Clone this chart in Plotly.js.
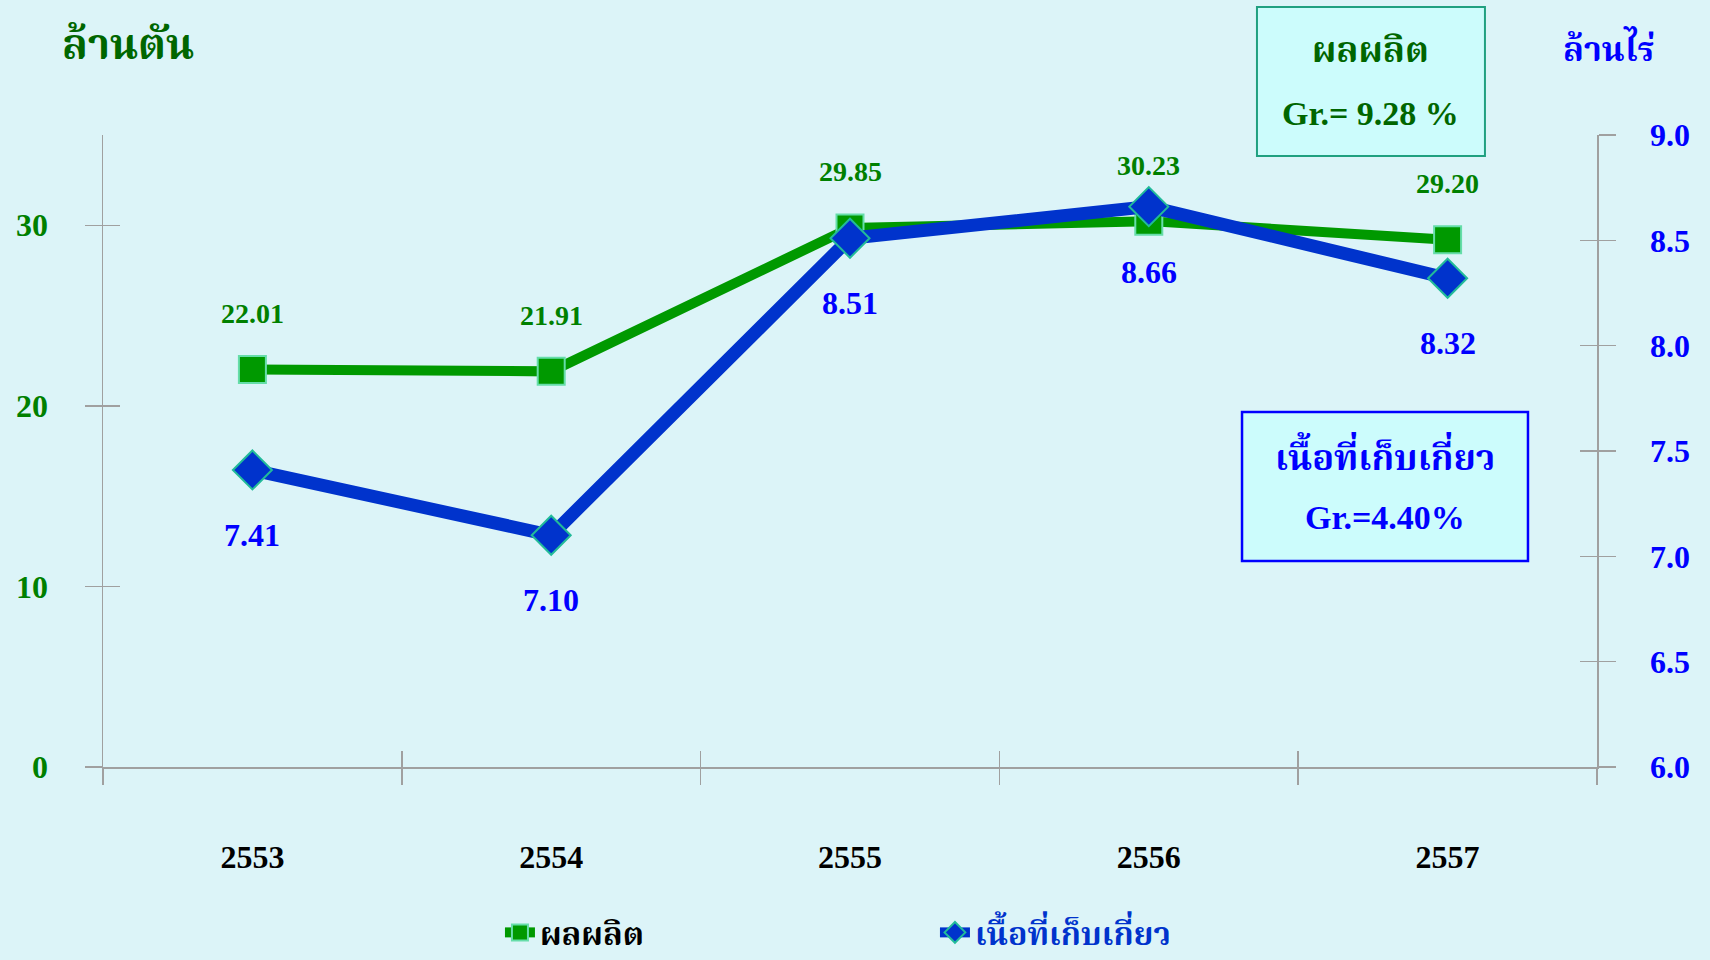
<!DOCTYPE html>
<html>
<head>
<meta charset="utf-8">
<script src="https://cdn.plot.ly/plotly-3.0.1.min.js"></script>
<style>
html,body{margin:0;padding:0;background:#dcf4f8;}
#chart{width:1710px;height:960px;}
</style>
</head>
<body>
<div id="chart"></div>
<script>
const years = ['2553', '2554', '2555', '2556', '2557'];
const production = [22.01, 21.91, 29.85, 30.23, 29.20];
const harvestArea = [7.41, 7.10, 8.51, 8.66, 8.32];
const productionLabels = ['22.01', '21.91', '29.85', '30.23', '29.20'];
const areaLabels = ['7.41', '7.10', '8.51', '8.66', '8.32'];
const leftTicks = [0, 10, 20, 30];
const rightTicks = [6.0, 6.5, 7.0, 7.5, 8.0, 8.5, 9.0];
const nameProduction = 'ผลผลิต';
const nameArea = 'เนื้อที่เก็บเกี่ยว';
const leftUnit = 'ล้านตัน';
const rightUnit = 'ล้านไร่';
const prodGrowth = 'Gr.= 9.28 %';
const areaGrowth = 'Gr.=4.40%';

const SERIF = 'Liberation Serif, Noto Serif Thai, Times New Roman, serif';
const GREEN = '#009900';
const DKGREEN = '#006600';
const BLUE = '#0033cc';
const TXTBLUE = '#0000ff';
const AXIS = '#a0a0a0';

const traces = [
  {
    x: years, y: production, name: nameProduction, type: 'scatter', mode: 'lines+markers',
    xaxis: 'x', yaxis: 'y',
    line: {color: GREEN, width: 10},
    marker: {symbol: 'square', size: 27, color: GREEN, line: {color: '#66ddaa', width: 2}},
    hoverinfo: 'skip'
  },
  {
    x: years, y: harvestArea, name: '<span style="color:#0033cc">' + nameArea + '</span>', type: 'scatter', mode: 'lines+markers',
    xaxis: 'x', yaxis: 'y2',
    line: {color: BLUE, width: 13},
    marker: {symbol: 'diamond', size: 30, color: BLUE, line: {color: '#22bb99', width: 2}},
    hoverinfo: 'skip'
  },
  {
    x: years, y: production, type: 'scatter', mode: 'markers', xaxis: 'x2', yaxis: 'y3',
    marker: {opacity: 0}, showlegend: false, hoverinfo: 'skip'
  },
  {
    x: years, y: harvestArea, type: 'scatter', mode: 'markers', xaxis: 'x2', yaxis: 'y4',
    marker: {opacity: 0}, showlegend: false, hoverinfo: 'skip'
  }
];

const annotations = [];
years.forEach((yr, i) => {
  annotations.push({
    x: i, y: production[i], xref: 'x', yref: 'y', text: productionLabels[i], showarrow: false,
    xanchor: 'center', yanchor: 'middle',
    yshift: 56, font: {family: SERIF, size: 28, color: '#008000', weight: 'bold'}
  });
  annotations.push({
    x: i, y: harvestArea[i], xref: 'x', yref: 'y2', text: areaLabels[i], showarrow: false,
    xanchor: 'center', yanchor: 'middle',
    yshift: -65, font: {family: SERIF, size: 32, color: TXTBLUE, weight: 'bold'}
  });
});
function paperNote(x, y, text, size, color) {
  return {xref: 'paper', yref: 'paper', x: x, y: y, text: text, showarrow: false,
    xanchor: 'center', yanchor: 'middle',
    font: {family: SERIF, size: size, color: color, weight: 'bold'}};
}
annotations.push(
  paperNote(0.0167, 1.142, leftUnit, 42, DKGREEN),
  paperNote(1.0074, 1.139, rightUnit, 34, TXTBLUE),
  paperNote(0.8487, 1.1345, nameProduction, 36, DKGREEN),
  paperNote(0.8487, 1.0348, prodGrowth, 34, DKGREEN),
  paperNote(0.8581, 0.4937, nameArea, 36, TXTBLUE),
  paperNote(0.8581, 0.3940, areaGrowth, 34, TXTBLUE)
);

const shapes = [
  {type: 'rect', xref: 'paper', yref: 'paper', x0: 0.7724, x1: 0.9250, y0: 0.9668, y1: 1.2025,
   fillcolor: '#ccfcfc', line: {color: '#20a080', width: 2}, layer: 'below'},
  {type: 'rect', xref: 'paper', yref: 'paper', x0: 0.7624, x1: 0.9538, y0: 0.3259, y1: 0.5617,
   fillcolor: '#ccfcfc', line: {color: '#0000ff', width: 2.5}, layer: 'below'}
];

const layout = {
  width: 1710, height: 960,
  paper_bgcolor: '#dcf4f8', plot_bgcolor: '#dcf4f8',
  margin: {l: 103, r: 113, t: 135, b: 193, autoexpand: false},
  showlegend: true,
  legend: {
    orientation: 'h', x: 0.2657, y: -0.262, xanchor: 'left', yanchor: 'middle',
    font: {family: SERIF, size: 32, color: '#000000', weight: 'bold'},
    entrywidth: 390, bgcolor: 'rgba(0,0,0,0)', itemsizing: 'trace'
  },
  xaxis: {
    type: 'category', categoryarray: years, range: [-0.5, 4.5],
    showline: true, linecolor: AXIS, linewidth: 1.5, showgrid: false, zeroline: false,
    ticks: 'outside', tickson: 'boundaries', ticklen: 16, tickcolor: AXIS, tickwidth: 1.5,
    tickfont: {family: SERIF, size: 32, color: '#000000', weight: 'bold'},
    ticklabelstandoff: 61, fixedrange: true
  },
  xaxis2: {
    type: 'category', categoryarray: years, range: [-0.5, 4.5], overlaying: 'x',
    showline: false, showgrid: false, zeroline: false,
    ticks: 'inside', tickson: 'boundaries', ticklen: 16, tickcolor: AXIS, tickwidth: 1.5,
    showticklabels: false
  },
  yaxis: {
    range: [0, 35], tickvals: leftTicks, ticktext: leftTicks.map(String),
    showline: true, linecolor: AXIS, linewidth: 1.5, showgrid: false, zeroline: false,
    ticks: 'outside', ticklen: 17, tickcolor: AXIS, tickwidth: 1.5,
    tickfont: {family: SERIF, size: 32, color: '#008000', weight: 'bold'},
    ticklabelstandoff: 30
  },
  yaxis2: {
    range: [6, 9], tickvals: rightTicks, ticktext: rightTicks.map(v => v.toFixed(1)),
    overlaying: 'y', side: 'right',
    showline: true, linecolor: AXIS, linewidth: 1.5, showgrid: false, zeroline: false,
    ticks: 'outside', ticklen: 17, tickcolor: AXIS, tickwidth: 1.5,
    tickfont: {family: SERIF, size: 32, color: TXTBLUE, weight: 'bold'},
    ticklabelstandoff: 28
  },
  yaxis3: {
    range: [0, 35], tickvals: leftTicks, overlaying: 'y', side: 'left',
    showline: false, showgrid: false, zeroline: false,
    ticks: 'inside', ticklen: 17, tickcolor: AXIS, tickwidth: 1.5, showticklabels: false
  },
  yaxis4: {
    range: [6, 9], tickvals: rightTicks, overlaying: 'y', side: 'right',
    showline: false, showgrid: false, zeroline: false,
    ticks: 'inside', ticklen: 17, tickcolor: AXIS, tickwidth: 1.5, showticklabels: false
  },
  annotations: annotations,
  shapes: shapes
};

Plotly.newPlot('chart', traces, layout, {displayModeBar: false, staticPlot: true});
</script>
</body>
</html>
